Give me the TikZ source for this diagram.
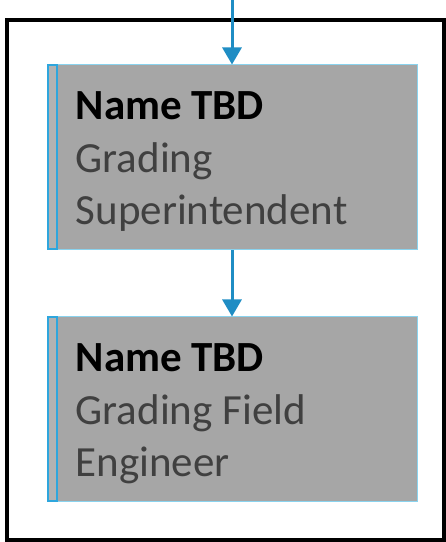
\documentclass[tikz,border=0pt]{standalone}
\usepackage{fontspec}
\setmainfont{Carlito}
\usetikzlibrary{arrows.meta, positioning}
\usepackage{xcolor}
\definecolor{linkblue}{HTML}{1F8DC4}
\definecolor{edgeblue}{HTML}{8AD3EE}
\definecolor{stripeblue}{HTML}{2EA6DD}
\definecolor{cardgray}{HTML}{A6A6A6}
\definecolor{stripegray}{HTML}{B2B2B2}
\definecolor{rolegray}{HTML}{404040}

\begin{document}
\begin{tikzpicture}[
  x=1pt, y=1pt,
  every node/.style={font=\fontsize{43}{52.5}\selectfont},
  card/.style={rectangle, minimum width=370pt, minimum height=185pt, inner sep=0pt,
    fill=cardgray, draw=edgeblue, line width=1pt},
  stripe/.style={rectangle, minimum width=9pt, minimum height=184pt, inner sep=0pt,
    fill=stripegray, draw=stripeblue, line width=2pt},
  cardtext/.style={anchor=north west, inner sep=0pt, align=left, text=rolegray},
  link/.style={-{Triangle[length=17pt, width=19pt]}, line width=3pt, draw=linkblue},
  frame/.style={draw=black, line width=4pt}
]

\useasboundingbox (0,0) rectangle (446,542);
\draw[frame] (7,2) rectangle (444,522);

\node[card] (sup) at (232,384.5) {};
\node[card, below=66pt of sup] (eng) {};
\node[stripe, anchor=west] (supbar) at ([xshift=0.5pt]sup.west) {};
\node[stripe, anchor=west] (engbar) at ([xshift=0.5pt]eng.west) {};

\node[cardtext] (suptxt) at ([xshift=29pt, yshift=-27pt]sup.north west)
  {{\color{black}\bfseries Name TBD}\\Grading\\Superintendent};
\node[cardtext] (engtxt) at ([xshift=29pt, yshift=-27pt]eng.north west)
  {{\color{black}\bfseries Name TBD}\\Grading Field\\Engineer};

\coordinate (feed) at (232,542);
\draw[link] (feed) -- (sup.north);
\draw[link] (sup.south) -- (eng.north);

\end{tikzpicture}
\end{document}
